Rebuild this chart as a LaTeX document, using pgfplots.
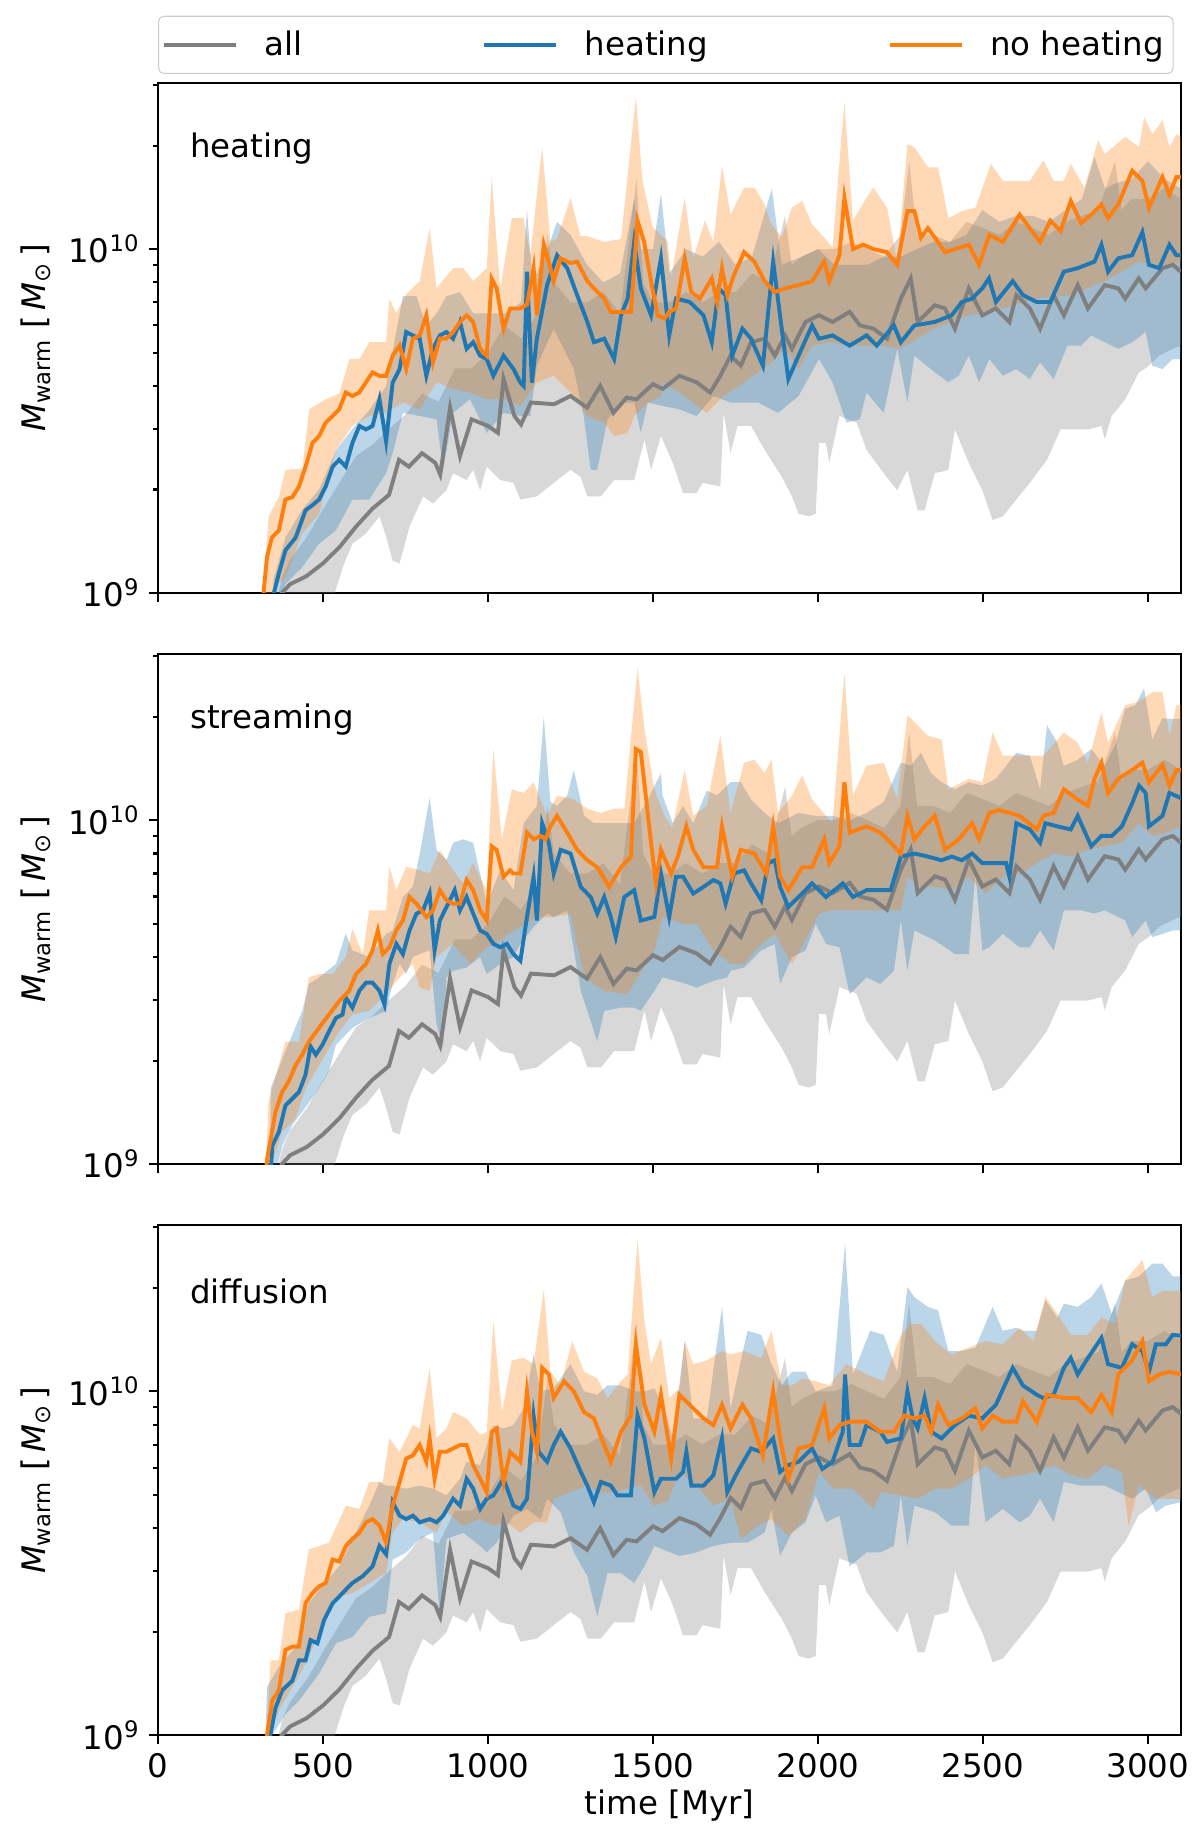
\documentclass[border=0pt]{standalone}
\usepackage{fontspec}
\setmainfont{DejaVu Sans}
\usepackage{pgfplots}
\usepackage{pgfplotstable}
\pgfplotsset{compat=1.18}

\definecolor{tabblue}{RGB}{31,119,180}
\definecolor{taborange}{RGB}{255,127,14}
\definecolor{tabgray}{RGB}{127,127,127}

% ---- "all" (same in every panel) ----
\pgfplotstableread{
t v
355 0.85
375 1.0
400 1.06
450 1.12
500 1.22
550 1.36
600 1.56
650 1.76
700 1.93
730 2.44
760 2.33
800 2.55
840 2.39
855 2.21
885 3.46
915 2.5
950 3.2
1000 3.06
1030 2.92
1047 4.19
1080 3.27
1100 3.09
1130 3.58
1200 3.54
1250 3.74
1300 3.46
1340 4.0
1380 3.34
1420 3.7
1450 3.66
1500 4.05
1529 3.92
1580 4.28
1632 4.1
1673 3.83
1704 4.28
1735 4.9
1766 4.58
1797 5.36
1838 5.49
1869 4.9
1900 5.61
1921 5.13
1962 6.14
2003 6.42
2044 6.14
2096 6.57
2127 6.0
2168 5.87
2209 5.49
2251 7.18
2281 8.22
2302 6.14
2354 6.87
2385 6.72
2415 5.87
2457 7.69
2498 6.42
2539 6.72
2580 6.14
2601 7.35
2642 6.72
2673 5.87
2714 7.35
2745 6.42
2787 7.86
2818 6.72
2869 7.86
2910 7.69
2931 7.18
2972 8.22
2993 7.69
3044 8.8
3075 9.0
3100 8.6
}\GrayMid
\pgfplotstableread{
t v
355 0.7
528 0.95
564 1.22
589 1.39
630 1.49
671 1.67
691 1.46
711 1.24
732 1.22
762 1.56
803 1.91
833 1.82
874 1.99
894 2.23
935 2.13
955 2.28
976 1.99
996 2.33
1037 2.13
1077 2.09
1098 1.87
1148 1.91
1199 2.09
1250 2.28
1280 2.18
1301 1.91
1342 1.91
1382 2.13
1443 2.13
1474 2.80
1494 2.28
1524 2.86
1560 2.39
1591 1.95
1632 1.95
1650 2.09
1704 2.04
1714 3.34
1735 2.55
1756 3.06
1797 3.06
1838 2.61
1890 2.18
1921 1.91
1941 1.70
1972 1.67
1993 1.70
2003 2.73
2024 2.73
2034 2.39
2065 3.27
2117 3.13
2147 2.61
2199 2.23
2240 1.99
2271 2.28
2302 1.74
2323 1.74
2354 2.23
2395 2.28
2415 2.99
2457 2.39
2498 1.99
2529 1.63
2560 1.67
2601 1.87
2642 2.09
2694 2.44
2735 2.99
2818 2.99
2859 3.06
2869 2.80
2890 3.27
2931 3.66
2972 4.37
3003 4.58
3034 4.9
3075 5.13
3100 5.24
}\GrayLo
\pgfplotstableread{
t v
355 0.9
375 1.1
400 1.25
450 1.45
500 1.75
550 2.1
600 2.5
650 2.7
700 3.0
750 3.3
800 3.8
850 3.6
900 4.5
950 4.5
1000 5.0
1050 6.0
1100 5.5
1150 6.5
1180 11
1200 8
1250 7
1300 7
1350 7.5
1400 6.5
1450 16
1470 8
1500 7
1550 7
1600 7.5
1650 7
1700 7.5
1750 7.5
1800 8.5
1850 8
1900 12.5
1920 9
1950 9.5
2000 10
2050 10
2100 10.5
2150 10
2200 9.5
2250 11
2276 18
2300 11
2350 11
2400 10.5
2450 12
2500 11.5
2550 11
2600 12
2650 11.5
2700 11
2750 12
2800 12.5
2850 13
2900 18
2920 13
2950 14
3000 14
3050 15
3100 14
}\GrayHi

% ---- panel 1: heating ----
\pgfplotstableread{
t v
345 0.9
351 1.0
366 1.14
386 1.33
417 1.45
447 1.74
468 1.80
488 1.87
508 2.04
529 2.33
549 2.44
569 2.33
589 2.73
610 3.06
630 2.99
650 3.06
671 3.66
691 2.76
711 4.09
732 4.48
752 5.74
772 5.61
793 5.49
813 4.28
833 5.13
854 5.61
874 5.74
894 5.49
915 6.14
935 5.13
955 5.36
976 4.9
996 4.79
1016 4.28
1047 4.9
1077 4.48
1098 4.09
1108 4.0
1118 8.6
1133 4.09
1148 5.5
1179 7.86
1209 9.6
1240 8.8
1270 7.35
1301 6.14
1321 5.36
1352 5.49
1382 4.79
1403 6.42
1423 7.18
1443 10.5
1463 7.69
1494 6.42
1524 9.4
1549 5.61
1570 7.18
1611 7.02
1653 6.42
1678 5.36
1699 7.69
1720 7.35
1740 4.9
1771 5.87
1797 5.49
1833 4.58
1864 9.2
1890 5.87
1910 4.19
1941 4.9
1982 6.0
2003 5.49
2044 5.61
2096 5.24
2147 5.61
2178 5.24
2230 6.0
2251 5.36
2292 6.0
2354 6.14
2405 6.42
2436 7.02
2467 7.18
2498 7.69
2518 8.22
2539 7.02
2590 8.07
2621 7.35
2663 7.02
2704 7.02
2745 8.6
2787 8.8
2838 9.2
2859 10.3
2879 8.6
2910 9.4
2952 9.6
2983 11.2
3003 9.0
3034 8.8
3065 10.3
3086 9.6
3100 9.6
}\BlueMidA
\pgfplotstableread{
t v
345 0.8
386 1.06
437 1.19
488 1.39
539 1.52
589 1.87
640 1.87
691 2.23
711 2.55
742 3.34
793 3.27
844 3.2
864 2.28
894 3.34
945 3.66
996 2.92
1047 3.34
1098 3.27
1128 3.27
1148 4.58
1199 5.87
1260 4.48
1290 3.27
1311 2.28
1331 2.28
1362 3.2
1403 3.58
1443 3.58
1463 2.92
1484 3.58
1529 3.5
1580 3.42
1632 3.27
1683 3.74
1735 3.58
1818 3.58
1879 3.34
1941 3.74
2003 4.79
2044 4.1
2086 3.13
2127 3.2
2147 3.83
2199 3.34
2240 5.13
2271 3.58
2292 4.9
2354 4.38
2395 4.1
2426 4.28
2457 4.9
2488 4.1
2519 4.79
2560 4.28
2601 4.48
2642 4.19
2673 4.68
2714 4.19
2756 5.24
2797 5.24
2828 5.61
2869 5.36
2910 5.13
2952 5.36
2993 5.74
3013 4.58
3044 4.48
3075 4.79
3100 4.79
}\BlueLoA
\pgfplotstableread{
t v
345 0.9
350 1.1
386 1.45
437 1.75
488 2.0
539 2.6
589 3.0
640 3.4
691 4.0
742 7.3
783 7.3
813 6.0
844 6.5
874 7.3
915 7.5
955 6.5
1000 6.5
1050 6.5
1100 7
1118 13
1135 8
1180 10
1209 12
1250 11
1300 9
1350 8
1400 8.5
1443 14
1463 10
1500 10
1524 14.5
1550 8.5
1600 10
1650 9.5
1700 10.5
1750 9
1800 9.5
1860 15
1890 9
1950 9.5
2000 10
2050 9
2100 9
2150 9
2200 9.5
2250 9.5
2300 10
2350 10.5
2400 10.5
2450 11
2498 13
2550 12
2600 12.5
2650 12.5
2700 12
2750 13
2800 14
2838 18.5
2870 15
2900 15.5
2950 16
3000 18
3050 16
3100 15
}\BlueHiA
\pgfplotstableread{
t v
315 0.9
330 1.27
345 1.45
366 1.52
386 1.87
407 1.9
427 2.04
447 2.33
468 2.73
488 2.86
508 3.13
529 3.27
549 3.42
569 3.83
589 3.74
610 3.83
630 4.1
650 4.38
671 4.28
691 4.28
711 4.9
732 5.24
752 4.48
772 5.49
793 5.61
813 6.42
833 4.68
854 5.49
874 5.49
894 5.74
915 6.14
935 6.42
955 6.14
976 5.13
996 4.9
1011 8.2
1026 7.69
1047 5.87
1067 6.72
1098 6.72
1118 6.9
1138 8.8
1148 6.42
1169 10.3
1189 8.8
1199 8.07
1220 9.4
1250 9.1
1270 9.2
1301 8.07
1321 7.69
1352 7.18
1372 6.57
1433 6.57
1453 12.1
1473 10.5
1494 8.07
1514 6.42
1535 6.28
1549 6.57
1570 6.72
1596 9.4
1616 7.5
1642 7.18
1678 8.22
1694 7.02
1709 8.8
1725 7.35
1745 8.4
1776 9.8
1807 9.2
1838 8.07
1869 7.5
1900 7.69
1941 7.86
1982 8.07
2019 9.2
2034 8.07
2065 9.6
2080 14.1
2106 10.0
2137 10.3
2168 10.0
2209 9.8
2240 9.0
2271 12.9
2292 12.9
2312 10.8
2333 11.5
2354 10.8
2385 9.8
2415 10.0
2457 10.3
2488 9.0
2519 11.0
2560 10.5
2611 12.6
2642 11.5
2673 10.5
2704 12.1
2735 11.3
2766 13.8
2797 11.9
2828 12.6
2859 13.5
2879 12.3
2910 13.5
2952 16.9
2983 15.8
3003 13.2
3044 16.2
3065 14.4
3086 16.2
3100 16.2
}\OrangeMidA
\pgfplotstableread{
t v
315 0.8
356 1.05
386 1.11
437 1.49
488 1.70
539 2.61
589 3.06
640 3.27
691 3.34
742 3.58
793 3.42
844 4.1
894 3.92
945 3.83
996 3.66
1047 3.66
1098 3.5
1148 4.1
1199 4.28
1250 3.83
1301 3.27
1352 3.13
1382 2.86
1423 2.92
1443 3.27
1484 3.58
1524 3.74
1529 4.1
1580 3.83
1632 3.5
1663 3.34
1714 3.74
1776 4.1
1818 4.38
1859 4.68
1900 5.13
1941 4.48
1982 5.24
2034 5.36
2100 5.24
2200 5.24
2250 5.13
2350 5.87
2457 6.42
2560 6.72
2663 7.18
2766 7.35
2869 8.07
2972 9.2
3044 8.8
3100 9.2
}\OrangeLoA
\pgfplotstableread{
t v
315 0.9
335 1.67
366 1.9
386 2.28
437 2.3
458 3.42
508 3.66
549 3.8
580 4.79
610 4.79
640 5.36
691 5.36
701 7.18
722 6.5
752 7.4
793 8.07
823 11.5
844 7.7
894 8.8
925 8.8
955 8.07
996 8.8
1011 16.2
1037 7.69
1072 12.3
1108 12.3
1128 9.6
1164 19.8
1189 10.5
1209 10.7
1250 14.1
1280 10.9
1301 10.9
1352 10.5
1403 10.7
1448 27.7
1468 15.8
1499 11.6
1545 10.5
1555 8.22
1575 10.8
1596 14.1
1622 9.4
1657 12.1
1683 10.5
1709 17.5
1735 12.6
1776 15.1
1807 15.1
1838 13.5
1859 11.8
1890 10.8
1921 13.2
1952 13.8
1982 11.8
2019 10.8
2044 10.1
2080 26.8
2106 12.1
2147 14.1
2168 15.1
2209 13.2
2240 9.2
2271 20.2
2292 19.8
2333 17.3
2364 17.3
2395 12.3
2436 12.9
2477 13.2
2524 17.7
2560 15.8
2611 15.8
2642 15.8
2683 18.1
2714 15.8
2745 15.8
2766 17.7
2807 15.1
2849 20.7
2869 18.9
2931 21.2
2973 19.8
2988 24.2
3013 21.6
3044 23.7
3065 19.8
3086 21.6
3100 21.2
}\OrangeHiA

% ---- panel 2: streaming ----
\pgfplotstableread{
t v
340 0.9
346 1.13
366 1.24
386 1.48
407 1.55
427 1.62
447 1.82
462 2.2
478 2.08
498 2.22
518 2.43
539 2.66
559 2.72
569 3.05
589 2.85
610 3.19
630 3.37
650 3.37
671 3.19
686 2.91
701 3.82
722 4.37
742 4.08
762 4.78
783 5.35
803 5.47
823 6.12
838 4.18
854 5.11
874 5.59
899 6.26
915 5.47
935 5.98
955 5.35
976 4.78
996 4.67
1016 4.37
1037 4.27
1057 4.37
1077 4.08
1098 3.9
1118 5.23
1138 6.85
1148 5.11
1164 9.8
1184 8.6
1199 7.0
1220 8.2
1250 8.0
1281 6.4
1311 5.98
1331 5.35
1352 5.98
1372 5.23
1387 4.57
1413 5.98
1443 6.26
1463 5.11
1504 5.23
1524 7.0
1549 5.23
1570 6.85
1591 6.85
1622 6.12
1653 6.4
1683 6.7
1704 6.55
1720 5.72
1745 7.0
1776 7.15
1797 6.55
1828 5.85
1849 7.5
1869 7.65
1885 6.4
1910 5.59
1941 5.98
1982 6.55
2024 5.98
2075 6.55
2106 5.98
2147 6.26
2189 6.26
2220 6.26
2251 7.84
2292 8.0
2333 7.84
2374 7.65
2405 7.84
2436 7.65
2467 8.0
2498 7.5
2539 7.5
2570 7.5
2580 6.85
2601 9.8
2642 9.4
2673 8.6
2689 9.8
2725 9.6
2766 9.4
2787 10.3
2828 8.4
2859 9.0
2890 9.0
2921 9.6
2952 11.2
2973 12.6
2993 12.0
3003 9.6
3044 10.3
3065 12.0
3100 11.6
}\BlueMidB
\pgfplotstableread{
t v
340 0.8
376 1.13
407 1.30
437 1.42
488 1.66
518 1.86
539 2.22
589 2.49
640 2.66
691 2.79
711 3.34
732 3.82
752 3.57
772 4.0
793 4.08
823 4.18
844 2.55
864 2.17
874 3.49
894 3.65
935 3.73
976 4.0
996 3.57
1037 3.82
1077 4.0
1098 4.37
1138 4.89
1179 5.35
1199 5.23
1240 5.47
1281 3.19
1301 2.79
1331 2.27
1352 2.79
1403 2.85
1443 2.85
1463 2.79
1504 3.19
1529 3.49
1570 3.41
1601 3.34
1632 3.26
1683 3.41
1725 3.49
1735 3.65
1776 3.73
1828 4.18
1869 4.37
1885 3.34
1921 4.0
1962 4.18
1993 4.99
2024 4.37
2065 4.27
2096 3.12
2147 3.49
2189 3.34
2230 3.65
2251 5.11
2271 3.65
2292 4.78
2354 4.47
2415 4.08
2457 4.08
2477 7.0
2498 4.18
2519 4.27
2560 4.67
2611 4.27
2642 4.27
2673 4.78
2714 4.18
2745 5.47
2797 5.47
2838 5.35
2869 5.47
2931 5.11
2952 4.57
2993 5.11
3013 4.57
3044 4.67
3075 4.78
3100 4.78
}\BlueLoB
\pgfplotstableread{
t v
340 0.9
341 1.66
386 2.13
437 2.79
457 3.34
488 3.49
539 3.82
569 4.68
589 4.18
640 4.0
691 4.67
711 4.78
742 5.98
772 6.4
793 8.0
823 11.6
844 8.2
874 7.65
894 8.6
925 8.8
955 8.6
996 5.72
1037 7.15
1077 6.26
1108 9.8
1148 11.0
1169 20.0
1189 11.3
1209 11.0
1240 11.8
1260 14.0
1291 10.3
1321 9.8
1362 9.8
1403 9.8
1443 9.8
1484 11.5
1524 13.7
1529 11.8
1560 9.8
1591 11.0
1622 9.8
1663 12.2
1694 11.8
1735 12.9
1766 12.9
1797 11.5
1838 10.5
1879 9.8
1941 10.5
1993 10.3
2044 10.3
2096 10.0
2147 10.5
2199 11.3
2251 14.7
2281 14.4
2312 15.7
2343 13.7
2374 12.9
2415 12.3
2457 12.9
2498 12.6
2539 13.2
2601 15.7
2642 15.4
2673 12.3
2694 18.9
2725 16.8
2745 14.4
2787 15.0
2828 16.1
2869 14.4
2900 16.5
2931 21.1
2962 21.6
2988 24.2
3013 17.2
3044 19.8
3075 19.7
3100 19.7
}\BlueHiB
\pgfplotstableread{
t v
325 0.9
330 1.03
356 1.42
376 1.62
396 1.74
417 1.94
437 2.08
457 2.27
488 2.49
518 2.72
549 2.98
579 3.19
600 3.57
630 3.82
650 4.18
666 4.78
681 4.08
701 4.27
722 4.78
742 5.11
762 5.98
783 5.72
813 5.23
833 5.47
854 6.26
874 5.85
894 5.72
915 5.72
935 6.7
955 6.26
976 5.47
996 5.11
1011 8.4
1026 8.2
1047 6.85
1067 7.15
1077 7.0
1098 7.0
1118 9.2
1138 8.8
1159 9.0
1174 8.8
1189 9.6
1209 10.3
1240 9.2
1270 8.2
1301 7.65
1331 7.3
1367 6.4
1403 7.3
1433 7.84
1448 16.1
1463 15.8
1494 8.6
1509 6.55
1524 8.2
1555 7.0
1575 7.84
1601 9.6
1622 8.2
1653 7.3
1694 7.3
1709 9.6
1740 6.85
1766 8.2
1807 8.0
1843 7.0
1864 9.6
1885 6.85
1910 6.26
1952 7.3
1982 7.3
2019 8.8
2034 7.5
2065 8.4
2080 12.9
2096 9.2
2147 9.6
2189 9.2
2220 8.6
2251 8.0
2271 10.3
2292 8.8
2323 9.6
2354 10.3
2385 8.2
2426 8.8
2467 9.8
2488 8.8
2519 10.5
2549 10.7
2580 10.5
2611 10.3
2663 9.4
2683 10.3
2714 10.5
2745 12.3
2787 11.5
2818 11.0
2838 13.2
2859 14.7
2879 12.0
2910 13.2
2952 14.0
2983 14.7
3003 12.9
3044 14.5
3065 12.6
3086 14.0
3100 14.0
}\OrangeMidB
\pgfplotstableread{
t v
325 0.8
345 1.0
376 1.24
417 1.36
447 1.66
488 1.94
549 2.43
589 2.72
640 2.79
691 3.12
732 3.49
772 3.82
793 3.26
823 3.19
844 4.0
894 4.37
945 3.82
996 4.27
1037 4.47
1077 4.78
1098 4.89
1148 5.23
1199 5.23
1250 5.35
1291 3.5
1352 3.19
1423 3.12
1504 4.18
1529 5.23
1591 4.99
1632 4.99
1683 4.18
1735 3.82
1776 3.82
1818 4.27
1869 4.67
1921 3.82
1962 4.47
2003 5.35
2044 5.47
2147 5.47
2251 5.47
2271 6.85
2312 6.4
2354 6.4
2405 6.26
2457 6.85
2508 6.12
2560 6.85
2611 7.0
2663 7.5
2714 8.0
2766 7.84
2818 8.2
2869 8.4
2921 8.6
2973 9.8
3013 9.0
3054 9.2
3100 9.6
}\OrangeLoB
\pgfplotstableread{
t v
325 0.9
335 1.52
386 2.27
427 2.27
457 3.49
488 3.57
529 3.57
569 4.0
589 4.83
620 4.08
640 5.47
691 5.47
701 7.33
722 6.26
752 7.33
793 7.15
823 7.0
854 8.2
894 7.15
925 6.55
955 7.5
996 6.26
1016 16.1
1042 8.8
1072 12.3
1108 12.0
1138 12.9
1179 10.3
1209 11.8
1260 11.5
1301 10.8
1342 10.5
1382 10.8
1413 10.8
1453 27.7
1474 18.4
1504 12.3
1535 10.3
1558 9.5
1596 14.0
1622 10.3
1663 11.0
1704 17.6
1735 10.5
1776 14.7
1807 15.0
1838 13.7
1859 15.0
1879 10.5
1921 11.8
1952 13.5
1982 11.5
2024 10.3
2044 9.8
2080 26.7
2106 11.8
2147 14.4
2199 14.7
2240 11.5
2271 20.2
2292 19.3
2333 17.6
2374 17.2
2395 12.3
2457 13.2
2498 12.9
2529 18.0
2560 15.4
2611 15.4
2642 15.4
2683 15.4
2745 18.0
2787 16.8
2818 14.7
2859 20.6
2879 16.8
2931 21.6
2973 22.1
3013 23.6
3044 23.6
3065 17.6
3086 21.6
3100 21.6
}\OrangeHiB

% ---- panel 3: diffusion ----
\pgfplotstableread{
t v
335 0.9
340 1.0
356 1.2
376 1.35
407 1.44
427 1.65
447 1.65
462 1.89
483 1.85
503 2.16
529 2.42
549 2.53
569 2.65
589 2.77
620 2.9
650 3.1
671 3.55
691 3.36
711 4.76
732 4.35
752 4.25
772 4.35
793 4.16
823 4.25
844 4.16
864 4.35
894 4.87
915 4.65
935 5.57
955 5.21
976 4.55
996 4.87
1016 4.98
1047 5.57
1077 4.65
1098 4.55
1118 4.87
1138 8.5
1153 6.67
1179 6.24
1199 6.98
1220 7.63
1250 6.82
1281 5.83
1301 5.32
1321 4.76
1342 5.45
1372 5.32
1392 4.98
1433 4.98
1453 8.5
1474 7.3
1504 5.09
1524 5.57
1570 5.57
1591 5.83
1601 6.67
1616 5.32
1653 5.32
1683 5.7
1709 7.3
1725 5.09
1756 5.83
1797 6.82
1828 6.67
1864 7.3
1885 5.83
1910 6.1
1941 6.24
1982 6.82
2013 5.95
2044 6.24
2075 7.63
2082 11.2
2096 6.98
2127 6.98
2147 7.98
2189 7.63
2209 7.13
2251 7.3
2271 10.0
2287 8.34
2302 7.8
2323 9.56
2343 7.63
2374 7.3
2415 7.98
2457 8.5
2498 8.34
2539 9.14
2590 11.7
2621 10.4
2663 9.77
2683 9.56
2714 9.77
2745 11.7
2766 12.5
2787 11.2
2818 12.5
2859 14.3
2879 12.0
2921 11.7
2952 13.7
2983 13.1
3003 11.4
3024 13.7
3054 13.7
3075 14.6
3100 14.5
}\BlueMidC
\pgfplotstableread{
t v
335 0.8
346 1.0
386 1.15
427 1.26
488 1.51
539 1.85
589 1.93
640 2.21
691 2.26
711 3.24
752 3.4
793 3.72
833 3.88
854 2.21
874 3.72
925 3.88
976 3.55
996 3.4
1026 3.63
1077 4.35
1118 4.55
1159 4.25
1179 4.87
1220 4.45
1260 3.4
1301 2.9
1331 2.21
1362 2.96
1403 2.96
1443 2.77
1474 3.1
1504 3.55
1529 3.47
1580 3.32
1632 3.4
1683 3.55
1735 3.63
1786 3.63
1838 3.88
1859 4.55
1885 3.32
1921 3.88
1962 4.16
1993 4.98
2024 4.16
2065 4.35
2096 3.1
2147 3.4
2189 3.4
2230 3.55
2251 4.98
2271 3.55
2292 4.65
2354 4.45
2405 4.07
2457 4.07
2477 6.98
2508 4.16
2560 4.55
2611 4.16
2642 4.35
2673 4.87
2714 4.16
2745 5.45
2797 5.32
2838 5.32
2869 5.32
2910 5.09
2952 4.87
2993 5.21
3024 4.45
3054 4.65
3100 4.76
}\BlueLoC
\pgfplotstableread{
t v
325 0.9
330 1.38
366 1.58
417 1.81
457 2.42
488 2.65
549 3.1
589 3.72
640 4.65
671 5.45
691 5.32
711 5.32
752 5.21
793 5.32
833 5.21
874 4.98
915 5.57
935 6.24
976 6.1
1016 7.98
1047 7.8
1077 7.98
1108 8.93
1138 12.8
1159 10.0
1199 10.2
1250 12.0
1291 10.0
1331 9.77
1362 10.4
1403 10.4
1443 10.0
1474 10.0
1504 10.2
1529 9.14
1560 7.3
1596 14.0
1622 8.34
1663 8.34
1709 17.6
1735 8.93
1786 15.0
1828 14.6
1859 12.0
1890 10.4
1921 11.4
1962 11.4
1993 10.0
2044 10.4
2082 26.9
2106 11.2
2158 15.0
2199 14.6
2240 11.4
2271 20.1
2292 18.8
2333 17.6
2364 17.2
2395 13.1
2436 13.1
2477 13.4
2529 17.6
2560 15.0
2601 15.3
2621 15.0
2663 15.0
2689 18.4
2725 16.4
2745 18.0
2787 17.6
2828 18.8
2859 20.6
2890 16.8
2931 21.0
2973 21.6
3013 23.5
3044 23.5
3075 21.6
3100 21.6
}\BlueHiC
\pgfplotstableread{
t v
325 0.9
330 1.0
346 1.26
366 1.35
386 1.77
407 1.81
427 1.81
447 2.42
468 2.59
488 2.71
508 2.77
529 3.24
549 3.2
569 3.55
589 3.72
610 3.88
630 4.16
650 4.25
671 4.07
691 3.64
711 4.65
732 5.45
752 6.37
772 6.51
793 6.98
813 6.24
823 7.3
838 5.57
854 6.67
874 6.67
894 6.82
915 6.98
935 6.98
955 6.1
976 5.57
996 5.09
1011 7.63
1026 7.8
1047 5.45
1067 6.67
1098 6.24
1118 10.0
1133 7.63
1148 6.67
1164 11.7
1184 11.2
1199 9.56
1230 10.7
1260 10.0
1291 8.7
1321 8.34
1352 6.98
1372 6.24
1403 7.63
1433 8.5
1448 13.7
1474 9.14
1504 7.63
1524 9.77
1555 6.37
1580 9.77
1611 9.14
1653 8.34
1683 7.98
1709 9.14
1735 7.8
1771 9.14
1797 8.34
1833 6.51
1864 10.0
1885 7.3
1910 5.57
1941 6.82
1982 6.98
2019 8.93
2034 7.3
2065 7.98
2096 8.16
2147 8.16
2189 7.63
2230 7.63
2261 8.5
2292 8.34
2323 8.5
2343 7.63
2364 9.14
2395 7.98
2436 8.34
2477 8.93
2498 7.8
2529 8.5
2560 8.16
2601 8.16
2621 9.35
2663 8.16
2694 9.77
2745 9.56
2787 9.56
2828 8.7
2859 9.77
2890 8.7
2910 11.2
2952 12.3
2983 14.0
3003 10.7
3034 11.2
3065 11.4
3100 11.2
}\OrangeMidC
\pgfplotstableread{
t v
325 0.8
335 1.0
366 1.18
407 1.38
447 1.61
488 1.98
529 2.48
589 2.59
640 2.77
691 2.96
711 3.88
742 4.25
793 4.16
844 3.88
874 4.45
925 4.07
976 4.25
1016 4.07
1057 4.16
1098 3.88
1138 4.16
1179 4.16
1199 4.87
1250 5.09
1301 5.32
1342 5.09
1382 5.09
1423 5.21
1463 5.32
1504 4.65
1545 4.8
1580 5.83
1632 5.32
1683 4.65
1735 4.87
1766 3.72
1818 4.07
1859 4.25
1910 3.8
1962 4.25
2003 5.83
2044 5.21
2106 5.21
2168 4.55
2189 5.09
2251 4.98
2302 4.87
2354 5.21
2405 5.21
2457 5.57
2508 6.1
2560 5.57
2611 5.7
2663 5.83
2714 6.1
2766 5.7
2818 5.57
2869 6.1
2921 5.83
2941 4.07
2973 5.32
3024 4.87
3054 4.87
3100 4.87
}\OrangeLoC
\pgfplotstableread{
t v
325 0.9
341 1.65
366 1.65
386 2.26
427 2.32
457 3.47
488 3.55
518 3.63
569 4.65
610 4.55
640 5.45
681 5.45
701 7.3
732 6.67
772 7.98
793 7.8
823 11.7
844 7.3
874 7.8
894 8.7
935 8.34
976 7.47
996 7.63
1016 16.0
1042 8.7
1072 12.3
1108 12.5
1138 12.0
1169 19.8
1189 11.4
1220 10.4
1255 14.0
1291 11.4
1331 10.9
1362 9.56
1403 10.7
1423 11.2
1453 27.5
1474 16.0
1494 12.0
1524 14.3
1549 9.56
1580 10.2
1596 14.0
1622 12.0
1663 12.3
1709 13.1
1735 12.8
1776 13.1
1828 12.5
1859 15.0
1890 10.4
1921 10.4
1952 10.9
1993 10.7
2034 10.4
2086 12.0
2147 11.2
2199 10.7
2251 14.6
2281 15.7
2312 15.7
2354 14.0
2405 12.8
2457 13.4
2508 14.0
2560 13.7
2611 15.3
2653 14.0
2689 18.8
2725 16.8
2766 14.6
2818 14.6
2859 16.4
2900 15.7
2931 21.0
2983 24.1
3013 18.8
3044 19.6
3075 19.6
3100 19.6
}\OrangeHiC

% each band = upper edge followed by the lower edge run backwards
\newcommand{\mkband}[3]{%
  \pgfplotstablesort[sort key=t, sort cmp=float >]{#1}{#3}%
  \pgfplotstablevertcat{#2}{#1}%
}
\mkband{\GrayLoR}{\GrayHi}{\GrayLo}
\mkband{\BlueLoAR}{\BlueHiA}{\BlueLoA}
\mkband{\OrangeLoAR}{\OrangeHiA}{\OrangeLoA}
\mkband{\BlueLoBR}{\BlueHiB}{\BlueLoB}
\mkband{\OrangeLoBR}{\OrangeHiB}{\OrangeLoB}
\mkband{\BlueLoCR}{\BlueHiC}{\BlueLoC}
\mkband{\OrangeLoCR}{\OrangeHiC}{\OrangeLoC}

\pgfplotsset{
  panel/.style={
    scale only axis,
    width=392.8bp, height=195.8bp,
    xmin=0, xmax=3100,
    ymin=1, ymax=30.4,
    xtick={0,500,1000,1500,2000,2500,3000},
    ytick={1,10},
    yticklabels={10\textsuperscript{9},10\textsuperscript{10}},
    minor ytick={2,3,4,5,6,7,8,9,20,30},
    xtick pos=left, ytick pos=left,
    tick align=outside,
    major tick length=3.5bp, minor tick length=2bp,
    every tick/.style={black, line width=0.8bp},
    axis line style={line width=0.8bp},
    tick label style={font=\fontsize{12.5}{15}\selectfont},
    xticklabel style={/pgf/number format/1000 sep={}, /pgf/number format/assume math mode=true},
    ylabel={{\itshape M}\textsubscript{warm} [\,{\itshape M}\textsubscript{⊙}\,]},
    ylabel style={at={(rel axis cs:-0.1197,0.5)}, anchor=center, font=\fontsize{12.5}{15}\selectfont},
  },
}
\newcommand{\panellabel}[1]{\node[anchor=west, inner sep=0pt, font=\fontsize{12.5}{15}\selectfont] at (rel axis cs:0.031,0.871) {#1};}

\begin{document}
\begin{tikzpicture}
\useasboundingbox (-60.7bp,-668.9bp) rectangle (400.1bp,31.9bp);

% ---------- panel 1 ----------
\begin{semilogyaxis}[panel, at={(0,0)}, anchor=north west, xticklabels={},
  legend columns=3,
  legend image code/.code={\draw[#1, line width=1.5bp] (0bp,0bp) -- (27.6bp,0bp);},
  legend style={at={(0,1)}, anchor=south west, yshift=3.5bp,
    draw=black!20, rounded corners=2bp, fill=white,
    inner xsep=1.5bp, inner ysep=3.5bp,
    font=\fontsize{12.5}{15}\selectfont,
    nodes={inner sep=2bp},
    /tikz/every odd column/.append style={column sep=8.2bp},
    /tikz/every even column/.append style={column sep=67bp}},
]
\addplot[fill=tabgray, fill opacity=0.3, draw=none, forget plot] table {\GrayHi};
\addplot[fill=tabblue, fill opacity=0.3, draw=none, forget plot] table {\BlueHiA};
\addplot[fill=taborange, fill opacity=0.3, draw=none, forget plot] table {\OrangeHiA};
\addplot[tabgray, line width=1.5bp] table {\GrayMid};
\addlegendentry{all}
\addplot[tabblue, line width=1.5bp] table {\BlueMidA};
\addlegendentry{heating}
\addplot[taborange, line width=1.5bp] table {\OrangeMidA};
\addlegendentry{no heating}
\panellabel{heating}
\end{semilogyaxis}

% ---------- panel 2 ----------
\begin{semilogyaxis}[panel, at={(0,-219.3bp)}, anchor=north west, xticklabels={}]
\addplot[fill=tabgray, fill opacity=0.3, draw=none] table {\GrayHi};
\addplot[fill=tabblue, fill opacity=0.3, draw=none] table {\BlueHiB};
\addplot[fill=taborange, fill opacity=0.3, draw=none] table {\OrangeHiB};
\addplot[tabgray, line width=1.5bp] table {\GrayMid};
\addplot[tabblue, line width=1.5bp] table {\BlueMidB};
\addplot[taborange, line width=1.5bp] table {\OrangeMidB};
\panellabel{streaming}
\end{semilogyaxis}

% ---------- panel 3 ----------
\begin{semilogyaxis}[panel, at={(0,-438.6bp)}, anchor=north west,
  xlabel={time [Myr]},
  xlabel style={at={(rel axis cs:0.5,-0.1374)}, anchor=center, font=\fontsize{12.5}{15}\selectfont},
]
\addplot[fill=tabgray, fill opacity=0.3, draw=none] table {\GrayHi};
\addplot[fill=tabblue, fill opacity=0.3, draw=none] table {\BlueHiC};
\addplot[fill=taborange, fill opacity=0.3, draw=none] table {\OrangeHiC};
\addplot[tabgray, line width=1.5bp] table {\GrayMid};
\addplot[tabblue, line width=1.5bp] table {\BlueMidC};
\addplot[taborange, line width=1.5bp] table {\OrangeMidC};
\panellabel{diffusion}
\end{semilogyaxis}
\end{tikzpicture}
\end{document}
